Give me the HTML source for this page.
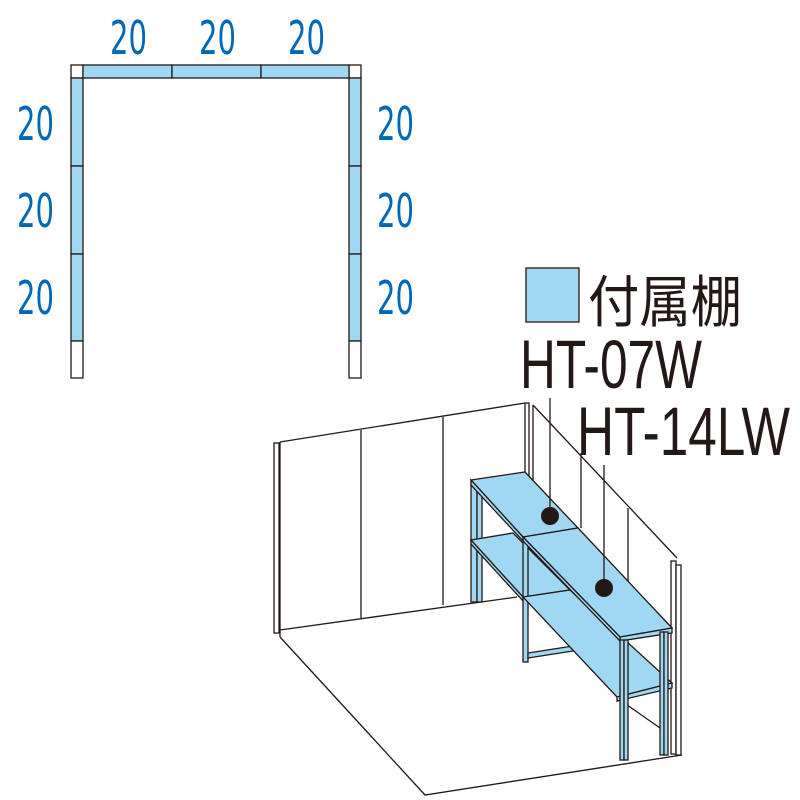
<!DOCTYPE html>
<html><head><meta charset="utf-8"><style>html,body{margin:0;padding:0;background:#fff}svg{display:block}</style></head>
<body>
<svg width="800" height="800" viewBox="0 0 800 800" xmlns="http://www.w3.org/2000/svg">
<g stroke="#231815" stroke-width="1.3" fill="#a0d8f4">
<!-- plan -->
<rect x="71" y="65" width="12" height="13" fill="#fff"/>
<rect x="349" y="65" width="12" height="13" fill="#fff"/>
<rect x="83" y="65" width="89" height="13"/>
<rect x="172" y="65" width="89" height="13"/>
<rect x="261" y="65" width="88" height="13"/>
<rect x="71" y="78" width="12" height="88"/>
<rect x="71" y="166" width="12" height="88"/>
<rect x="71" y="254" width="12" height="87"/>
<rect x="71" y="341" width="12" height="37" fill="#fff"/>
<rect x="349" y="78" width="12" height="88"/>
<rect x="349" y="166" width="12" height="88"/>
<rect x="349" y="254" width="12" height="87"/>
<rect x="349" y="341" width="12" height="37" fill="#fff"/>
</g>
<g fill="#0068b7" font-family="'DejaVu Sans Condensed','Liberation Sans',sans-serif" font-size="46">
<text x="110" y="54" textLength="37" lengthAdjust="spacingAndGlyphs">20</text>
<text x="199" y="54" textLength="37" lengthAdjust="spacingAndGlyphs">20</text>
<text x="288" y="54" textLength="37" lengthAdjust="spacingAndGlyphs">20</text>
<text x="17" y="140" textLength="37" lengthAdjust="spacingAndGlyphs">20</text>
<text x="17" y="227" textLength="37" lengthAdjust="spacingAndGlyphs">20</text>
<text x="17" y="314" textLength="37" lengthAdjust="spacingAndGlyphs">20</text>
<text x="377" y="140" textLength="37" lengthAdjust="spacingAndGlyphs">20</text>
<text x="377" y="227" textLength="37" lengthAdjust="spacingAndGlyphs">20</text>
<text x="377" y="314" textLength="37" lengthAdjust="spacingAndGlyphs">20</text>
</g>
<!-- legend -->
<rect x="526" y="268" width="53" height="54" fill="#a0d8f4" stroke="#231815" stroke-width="1.3"/>
<g fill="#231815" font-family="'Liberation Sans','Noto Sans CJK JP',sans-serif">
<text x="588" y="322" font-size="56" textLength="154" lengthAdjust="spacingAndGlyphs">付属棚</text>
<text x="520" y="388" font-size="69" textLength="182" lengthAdjust="spacingAndGlyphs">HT-07W</text>
<text x="577" y="455" font-size="69" textLength="213" lengthAdjust="spacingAndGlyphs">HT-14LW</text>
</g>
<!-- room -->
<g stroke="#231815" stroke-width="1.3" fill="none">
<polyline points="280,442 525,403"/>
<polyline points="280,630 517,597"/>
<rect x="274" y="443" width="5" height="190" fill="#fff"/>
<line x1="280" y1="442" x2="280" y2="637"/>
<line x1="361" y1="430" x2="361" y2="618"/>
<line x1="443" y1="417" x2="443" y2="605"/>
<rect x="525" y="403" width="4" height="95" fill="#fff"/>
<line x1="533" y1="405" x2="533" y2="498"/>
<polyline points="533,405 677,558"/>
<line x1="581" y1="453" x2="581" y2="528"/>
<line x1="628" y1="508" x2="628" y2="620"/>
<polyline points="280,637 425,795 682,755"/>
<line x1="620" y1="700" x2="660" y2="728"/>
<rect x="671" y="561" width="5" height="193" fill="#fff"/>
<rect x="676" y="565" width="5" height="190" fill="#fff"/>
</g>
<!-- shelves -->
<g stroke="#231815" stroke-width="1.3" fill="#a0d8f4">
<rect x="471" y="482" width="6" height="120"/>
<rect x="477" y="482" width="5" height="120"/>
<polygon points="471,540 513,533 570,590 523,597"/>
<polygon points="471,540 471,544 523,601 523,597"/>
<rect x="523" y="537" width="5" height="125"/>
<polygon points="528,653 573,646 573,651 528,658"/>
<polygon points="523,597 570,590 672,683 617,697"/>
<polygon points="617,697 672,683 672,688 617,701"/>
<polygon points="471,480 525,472 578,528 523,537"/>
<polygon points="471,480 471,485 523,541 523,537"/>
<polygon points="523,537 578,528 672,628 620,637"/>
<polygon points="620,637 672,628 672,633 620,641"/>
<polygon points="523,537 523,541 620,641 620,637"/>
<rect x="620" y="640" width="4" height="120"/>
<rect x="624" y="640" width="4" height="120"/>
<rect x="660" y="632" width="4" height="123"/>
<rect x="664" y="632" width="4" height="123"/>
</g>
<g stroke="#231815" stroke-width="1.3">
<line x1="550" y1="398" x2="550" y2="510"/>
<line x1="604" y1="465" x2="604" y2="582"/>
</g>
<circle cx="550" cy="516" r="9" fill="#231815"/>
<circle cx="604" cy="588" r="9" fill="#231815"/>
</svg>
</body></html>
